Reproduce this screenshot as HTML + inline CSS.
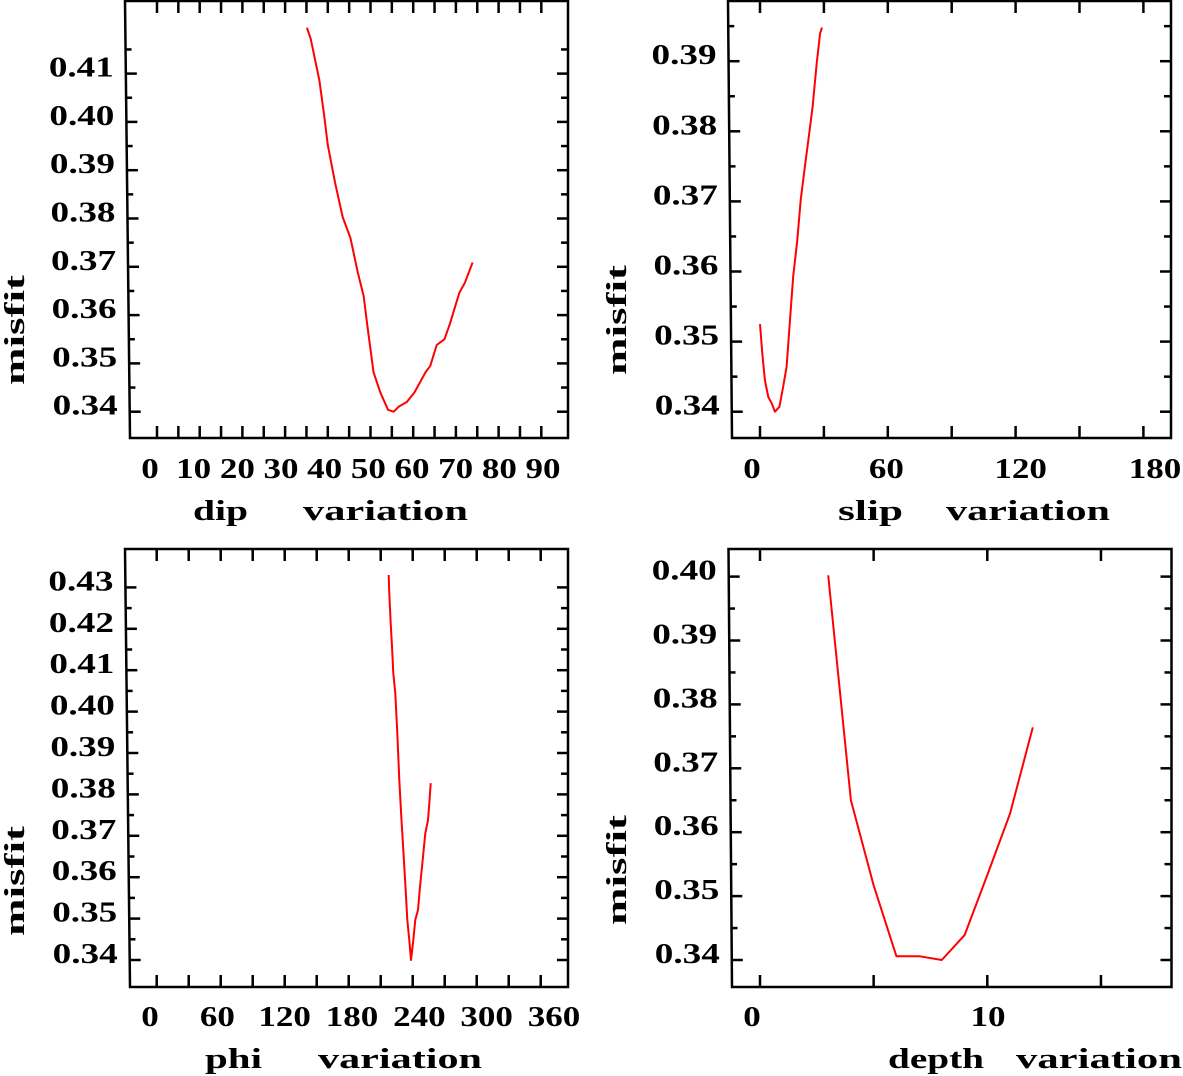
<!DOCTYPE html>
<html><head><meta charset="utf-8">
<style>
html,body{margin:0;padding:0;background:#fff;}
svg{display:block;}
text{font-family:"Liberation Serif",serif;font-weight:bold;fill:#000;}
</style></head>
<body>
<svg id="fig" width="1183" height="1076" viewBox="0 0 1183 1076" xmlns="http://www.w3.org/2000/svg"></svg>
<script>
// ---- data ----
const dipX = [35.1,36.0,38.0,39.1,40.0,41.7,43.5,45.3,47.0,48.4,49.2,50.7,52.3,54.1,55.4,56.7,58.5,60.3,62.9,64.0,65.5,67.3,68.6,70.8,72.1,73.9];
const dipY = [0.4195,0.4172,0.4087,0.4016,0.3952,0.3874,0.3803,0.3760,0.3689,0.3639,0.3582,0.3482,0.3440,0.3404,0.3400,0.3411,0.3420,0.3440,0.3482,0.3495,0.3538,0.3550,0.3582,0.3646,0.3667,0.3709];
const slipX = [0.0,1.1,2.3,3.9,5.5,7.0,9.1,10.9,12.5,14.1,15.6,17.5,19.1,21.1,22.7,24.7,26.6,28.2,29.1];
const slipY = [0.3525,0.3483,0.3445,0.3421,0.3412,0.3400,0.3407,0.3436,0.3464,0.3531,0.3593,0.3645,0.3702,0.3750,0.3788,0.3835,0.3897,0.3940,0.3948];
const phiX = [217.5,218.1,219.4,220.6,221.8,223.7,225.6,227.4,229.3,231.2,233.1,234.9,236.8,238.4,240.6,242.4,245.0,246.8,249.4,251.8,254.3,255.6,256.9];
const phiY = [0.4330,0.4286,0.4213,0.4157,0.4093,0.4044,0.3948,0.3835,0.3746,0.3666,0.3585,0.3497,0.3448,0.3400,0.3448,0.3497,0.3521,0.3577,0.3642,0.3706,0.3738,0.3778,0.3827];
const depthX = [3,4,5,6,7,8,9,10,11,12];
const depthY = [0.4002,0.3650,0.3517,0.3406,0.3406,0.3400,0.3439,0.3533,0.3629,0.3764];
const dipTickLabels = [0,10,20,30,40,50,60,70,80,90];
const slipTickLabels = [0,60,120,180];
const phiTickLabels = [0,60,120,180,240,300,360];
const depthTickLabels = [0,10];
const dipYLabels = [0.34,0.35,0.36,0.37,0.38,0.39,0.40,0.41];
const slipYLabels = [0.34,0.35,0.36,0.37,0.38,0.39];
const phiYLabels = [0.34,0.35,0.36,0.37,0.38,0.39,0.40,0.41,0.42,0.43];
const depthYLabels = [0.34,0.35,0.36,0.37,0.38,0.39,0.40];

const NS = "http://www.w3.org/2000/svg";
const svg = document.getElementById('fig');
function mk(tag, attrs, parent){
  const e = document.createElementNS(NS, tag);
  for (const k in attrs) e.setAttribute(k, attrs[k]);
  (parent||svg).appendChild(e);
  return e;
}

const panels = [
 {id:'dip', xs:dipX, ys:dipY, xl:dipTickLabels, yl:dipYLabels,
  L0:125, L1:130, T:1, R:568, B:438, x0:157, kx:4.27, y0:411.7, ky:4830,
  xt:{from:0,to:90,step:5}, ymin:[0.345,0.415], lab0:150, lab1:543, labMax:90,
  tb:478, title:['dip','variation'], tx:[193,303], tw:[55,165], ty:520, mx:24, my:330},
 {id:'slip', xs:slipX, ys:slipY, xl:slipTickLabels, yl:slipYLabels,
  L0:728, L1:732, T:1, R:1171, B:438, x0:760, kx:2.13, y0:411.7, ky:7010,
  xt:{from:0,to:180,step:30}, ymin:[0.345,0.395], lab0:752, lab1:1155, labMax:180,
  tb:478, title:['slip','variation'], tx:[838,946], tw:[65,164], ty:520, mx:626, my:320},
 {id:'phi', xs:phiX, ys:phiY, xl:phiTickLabels, yl:phiYLabels,
  L0:125, L1:130, T:549, R:568, B:987, x0:156.7, kx:1.0667, y0:960, ky:4140,
  xt:{from:0,to:360,step:30}, ymin:[0.345,0.425], lab0:150, lab1:554, labMax:360,
  tb:1026, title:['phi','variation'], tx:[205,318], tw:[57,164], ty:1068, mx:24, my:881},
 {id:'depth', xs:depthX, ys:depthY, xl:depthTickLabels, yl:depthYLabels,
  L0:728.5, L1:732, T:549, R:1171.5, B:987, x0:760, kx:22.73, y0:960, ky:6390,
  xt:{from:0,to:15,step:5}, ymin:[0.345,0.395], lab0:752, lab1:988, labMax:10,
  tb:1026, title:['depth','variation'], tx:[888,1016], tw:[96,166], ty:1068, mx:626, my:870}
];

panels.forEach(p => {
  const g = mk('g', {});
  
  
  const X = v => p.x0 + (v) * p.kx;
  const Y = v => p.y0 - (v - 0.34) * p.ky;
  const leftAt = y => p.L0 + (p.L1 - p.L0) * (y - p.T) / (p.B - p.T);
  const fr = mk('path', {d:`M${p.L0},${p.T} L${p.R},${p.T} L${p.R},${p.B} L${p.L1},${p.B} Z`, fill:'none', stroke:'#000', 'stroke-width':2.5}, g);
  
  
  for (let v = p.xt.from; v <= p.xt.to + 1e-9; v += p.xt.step) {
    const x = X(v);
    const t = mk('line', {x1:x, y1:p.B, x2:x, y2:p.B-12, stroke:'#000', 'stroke-width':2.5}, g);
    
    
    const t2 = mk('line', {x1:x, y1:p.T, x2:x, y2:p.T+12, stroke:'#000', 'stroke-width':2.5}, g);
    
    
  }
  p.yl.forEach(v => {
    const y = Y(v), lx = leftAt(y);
    const a = mk('line', {x1:lx, y1:y, x2:lx+11, y2:y, stroke:'#000', 'stroke-width':2.5}, g);
    
    
    const b = mk('line', {x1:p.R, y1:y, x2:p.R-11, y2:y, stroke:'#000', 'stroke-width':2.5}, g);
    
    
    const tl = mk('text', {x:lx-12, y:y+3, 'font-size':28, 'text-anchor':'end', textLength:65, lengthAdjust:'spacingAndGlyphs'}, g);
    tl.textContent = v.toFixed(2);
    
    
  });
  for (let v = p.ymin[0]; v <= p.ymin[1] + 1e-9; v += 0.01) {
    const y = Y(v), lx = leftAt(y);
    const a = mk('line', {x1:lx, y1:y, x2:lx+6, y2:y, stroke:'#000', 'stroke-width':2.5}, g);
    
    
    const b = mk('line', {x1:p.R, y1:y, x2:p.R-7, y2:y, stroke:'#000', 'stroke-width':2.5}, g);
    
    
  }
  p.xl.forEach(v => {
    const cx = p.lab0 + (p.lab1 - p.lab0) * v / p.labMax;
    const s = String(v);
    const tl = mk('text', {x:cx, y:p.tb, 'font-size':28, 'text-anchor':'middle', textLength:s.length*17.5, lengthAdjust:'spacingAndGlyphs'}, g);
    tl.textContent = s;
    
    
  });
  p.title.forEach((w, i) => {
    const t = mk('text', {x:p.tx[i], y:p.ty, 'font-size':29, textLength:p.tw[i], lengthAdjust:'spacingAndGlyphs'}, g);
    t.textContent = w;
    
    
  });
  const m = mk('text', {x:0, y:0, 'font-size':29, 'text-anchor':'middle', textLength:110, lengthAdjust:'spacingAndGlyphs', transform:`translate(${p.mx},${p.my}) rotate(-90)`}, g);
  m.textContent = 'misfit';
  
  
  const d = p.xs.map((xv, i) => (i ? 'L' : 'M') + X(xv).toFixed(1) + ',' + Y(p.ys[i]).toFixed(1)).join(' ');
  const c = mk('path', {d:d, fill:'none', stroke:'#ff0000', 'stroke-width':2, 'stroke-linejoin':'round'}, g);
  
  
});
</script>
</body></html>
